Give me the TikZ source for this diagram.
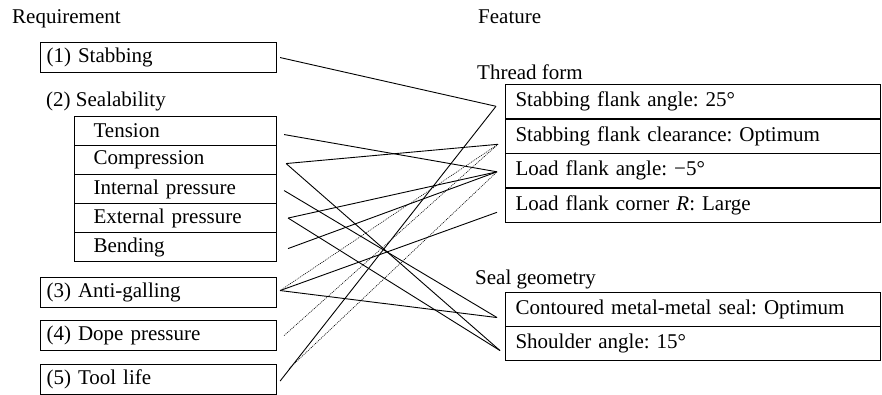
\documentclass[tikz,border=0pt]{standalone}
\usepackage{fontspec}
\setmainfont{Liberation Serif}
\usetikzlibrary{calc}
\begin{document}
\frenchspacing
\begin{tikzpicture}[x=1pt,y=-1pt,
  every node/.style={font=\fontsize{21}{24}\selectfont},
  lbox/.style={draw, line width=1.1pt, anchor=north west, minimum height=30pt, text width=224pt, inner xsep=6pt, inner ysep=0pt, align=left},
  sbox/.style={draw, line width=1.1pt, anchor=north west, minimum height=29pt, text width=164pt, inner xsep=19pt, inner ysep=0pt, align=left},
  rbox/.style={draw, line width=1.1pt, anchor=north west, minimum height=34.5pt, text width=355pt, inner xsep=10pt, inner ysep=0pt, align=left},
  lbl/.style={anchor=base west, inner sep=0pt},
  link/.style={line width=0.9pt},
  dlink/.style={line width=0.6pt, dash pattern=on 1pt off 1pt}
]
\useasboundingbox (0,0) rectangle (882,395);

% headings
\node[lbl] (hreq) at (12,24) {Requirement};
\node[lbl] (hfeat) at (478,24) {Feature};

% requirement boxes
\node[lbox] (stab) at (40,42) {(1) Stabbing};
\node[lbl] (seal) at (46,107) {(2) Sealability};
\node[sbox] (ten) at (74,116) {Tension};
\node[sbox] (comp) at (74,145) {Compression};
\node[sbox] (intp) at (74,174) {Internal pressure};
\node[sbox] (extp) at (74,203) {External pressure};
\node[sbox] (bend) at (74,232) {Bending};
\node[lbox] (gall) at (40,277) {(3) Anti-galling};
\node[lbox] (dope) at (40,320) {(4) Dope pressure};
\node[lbox] (tool) at (40,364) {(5) Tool life};

% feature boxes
\node[lbl] (thread) at (477,80) {Thread form};
\node[rbox] (sfa) at (505,84) {Stabbing flank angle: 25°};
\node[rbox] (sfc) at (505,118.5) {Stabbing flank clearance: Optimum};
\node[rbox] (lfa) at (505,153) {Load flank angle: −5°};
\node[rbox] (lfc) at (505,187.5) {Load flank corner \textit{R}: Large};
\node[lbl] (sgeo) at (475,284) {Seal geometry};
\node[rbox, minimum height=34pt] (cont) at (505,292) {Contoured metal-metal seal: Optimum};
\node[rbox, minimum height=34pt] (shou) at (505,326) {Shoulder angle: 15°};

% connector ends (left)
\coordinate (Lstab) at ($(stab.east)+(3,0)$);
\coordinate (Lten) at ($(ten.east)+(7,3.5)$);
\coordinate (Lcomp) at ($(comp.east)+(9,3.5)$);
\coordinate (Lintp) at ($(intp.east)+(7,1.5)$);
\coordinate (Lextp) at ($(extp.east)+(11,0)$);
\coordinate (Lbend) at ($(bend.east)+(11,1.5)$);
\coordinate (Lgall) at ($(gall.east)+(3,-2)$);
\coordinate (Ldope) at ($(dope.east)+(7,0)$);
\coordinate (Ltool) at ($(tool.east)+(3,1.5)$);
\coordinate (Ltoold) at ($(tool.east)+(12,-11)$);
% connector ends (right)
\coordinate (Rsfa) at ($(sfa.west)+(-9,4.5)$);
\coordinate (Rsfc) at ($(sfc.west)+(-7,8)$);
\coordinate (Rlfa) at ($(lfa.west)+(-8,1)$);
\coordinate (Rlfc) at ($(lfc.west)+(-8,7)$);
\coordinate (Rcont) at ($(cont.west)+(-8,8)$);
\coordinate (Rshou) at ($(shou.west)+(-5,7)$);

% solid links
\draw[link] (Lstab) -- (Rsfa);
\draw[link] (Lten) -- (Rlfa);
\draw[link] (Lcomp) -- (Rsfc);
\draw[link] (Lcomp) -- (Rshou);
\draw[link] (Lintp) -- (Rcont);
\draw[link] (Lextp) -- (Rlfa);
\draw[link] (Lextp) -- (Rshou);
\draw[link] (Lbend) -- (Rlfa);
\draw[link] (Lgall) -- (Rlfc);
\draw[link] (Lgall) -- (Rcont);
\draw[link] (Ltool) -- (Rsfa);
% dotted links
\draw[dlink] (Lgall) -- (Rsfc);
\draw[dlink] (Ldope) -- (Rsfc);
\draw[dlink] (Ltoold) -- (Rlfa);
\end{tikzpicture}
\end{document}
